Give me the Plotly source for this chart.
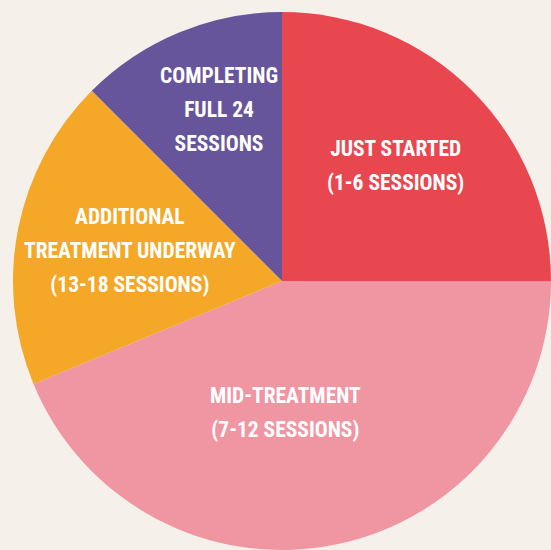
import plotly.graph_objects as go

# Data (sixteenths of participants)
categories = [
    "JUST STARTED<br>(1-6 SESSIONS)",
    "MID-TREATMENT<br>(7-12 SESSIONS)",
    "ADDITIONAL<br>TREATMENT UNDERWAY<br>(13-18 SESSIONS)",
    "COMPLETING<br>FULL 24<br>SESSIONS",
]
values = [4, 7, 3, 2]
colors = ["#E84750", "#F095A2", "#F5A727", "#67559C"]

# label anchor positions (pixel centres in the 551x550 canvas)
label_px = [(395, 166), (285, 412), (130, 251), (219, 109)]

W, H = 551, 550
BG = "#F5F0EA"
FONT = "Roboto Condensed, Liberation Sans Narrow, DejaVu Sans Condensed, Roboto, sans-serif"

fig = go.Figure(
    go.Pie(
        labels=categories,
        values=values,
        marker=dict(colors=colors, line=dict(width=0)),
        sort=False,
        direction="clockwise",
        rotation=0,
        textinfo="none",
        hoverinfo="label+percent",
        domain=dict(x=[13 / W, 1], y=[0, 1 - 12 / H]),
        showlegend=False,
    )
)

span_open = "<span style='font-size:21.5px'>"
for text, (px, py) in zip(categories, label_px):
    fig.add_annotation(
        x=px / W, y=1 - py / H, xref="paper", yref="paper",
        text=span_open + text.replace("<br>", "</span><br>" + span_open) + "</span>",
        showarrow=False, align="center",
        xanchor="center", yanchor="middle",
        font=dict(family=FONT, size=26, color="white", weight="bold"),
    )

fig.update_layout(
    width=W, height=H,
    margin=dict(l=0, r=0, t=0, b=0),
    paper_bgcolor=BG, plot_bgcolor=BG,
)

fig.write_html(
    "out.html",
    config={"displayModeBar": False},
    post_script="document.body.style.margin='0';document.body.style.background='" + BG + "';",
)
